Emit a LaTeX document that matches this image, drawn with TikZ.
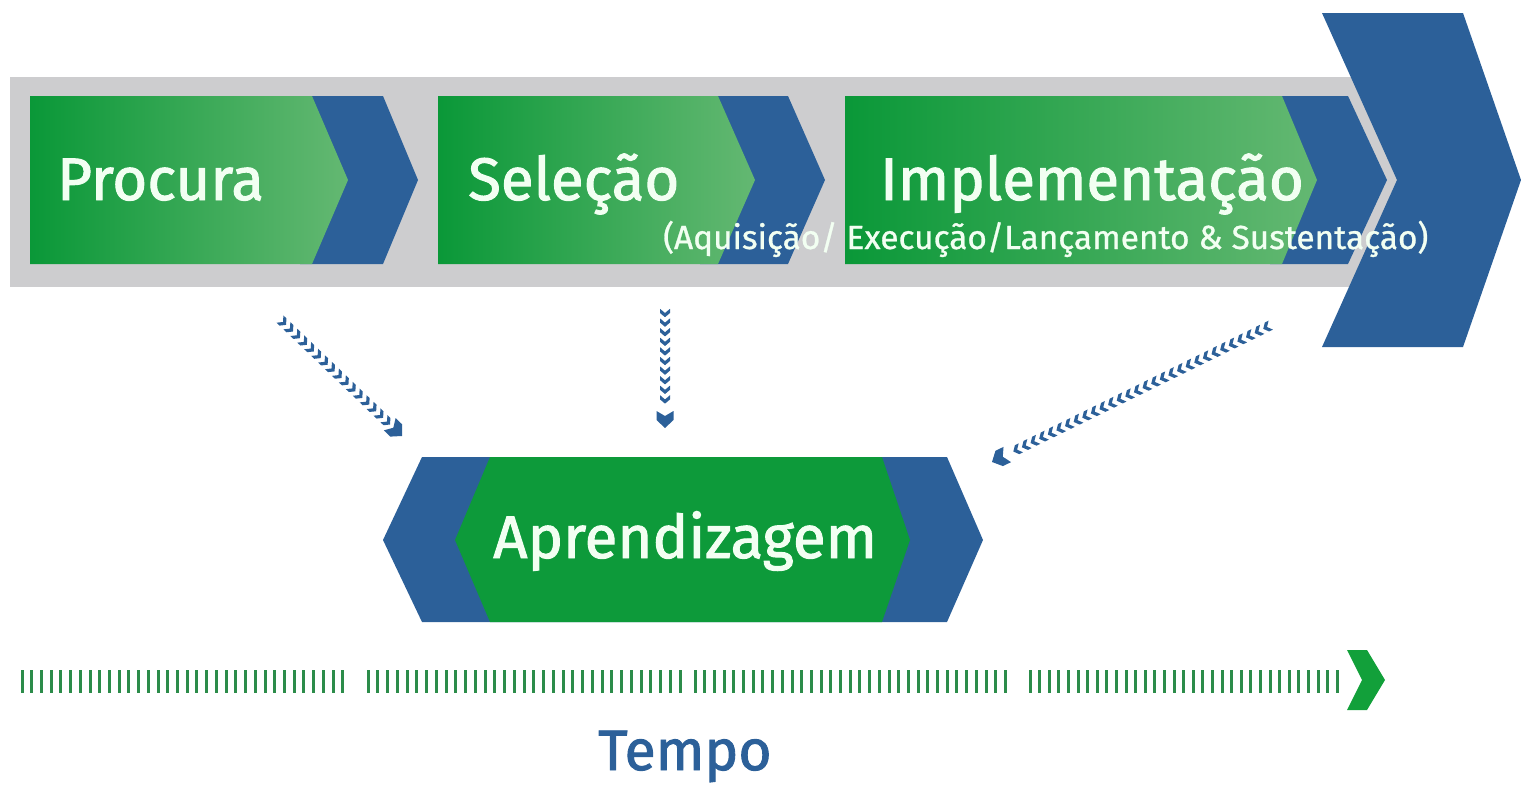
\documentclass[tikz,border=0pt]{standalone}
\usepackage{fontspec}
\newfontfamily\labelfont[FakeBold=1.6]{Fira Sans}
\newfontfamily\subfont[FakeBold=0.8]{Fira Sans}
\usetikzlibrary{decorations.markings}
\definecolor{cblue}{RGB}{44,96,153}
\definecolor{gdark}{RGB}{10,152,56}
\definecolor{glight}{RGB}{100,184,114}
\definecolor{gsolid}{RGB}{13,154,58}
\definecolor{band}{RGB}{205,205,207}
\definecolor{txt}{RGB}{242,255,242}
\definecolor{tick}{RGB}{44,140,74}
\definecolor{tgreen}{RGB}{18,160,58}
\tikzset{
  greenpart/.style={left color=gdark, right color=glight, draw=none},
  bluepart/.style={fill=cblue, draw=none},
  bigtxt/.style={text=txt, font=\labelfont\fontsize{60}{60}\selectfont, inner sep=0pt, anchor=base west},
  subtxt/.style={text=txt, font=\subfont\fontsize{33.4}{33.4}\selectfont, inner sep=0pt, anchor=base west},
  chevarrow/.style={decoration={markings,
      mark=between positions 0 and -19pt step 9.6pt with {\fill[cblue] (-4.2,-5) -- (0,-5) -- (4.2,0) -- (0,5) -- (-4.2,5) -- (0,0) -- cycle;},
      mark=at position 1 with {\fill[cblue] (-17,-8.5) -- (-8,-8.5) -- (0,0) -- (-8,8.5) -- (-17,8.5) -- (-12,0) -- cycle;}},
    decorate},
  tickmark/.style={draw=tick, line width=3pt}
}
\begin{document}
\begin{tikzpicture}[x=1pt,y=-1pt]
\useasboundingbox (0,0) rectangle (1521,787);
% gray band
\fill[band] (10,77) rectangle (1400,287);
% big chevron
\fill[cblue] (1322,13) -- (1463,13) -- (1521,180) -- (1463,347) -- (1322,347) -- (1397,180) -- cycle;
% block 1
\fill[bluepart] (300,96) -- (383,96) -- (418,180) -- (383,264) -- (300,264) -- cycle;
\shade[greenpart] (30,96) -- (312,96) -- (348,180) -- (312,264) -- (30,264) -- cycle;
% block 2
\fill[bluepart] (700,96) -- (788,96) -- (825,180) -- (788,264) -- (700,264) -- cycle;
\shade[greenpart] (438,96) -- (718,96) -- (755,180) -- (718,264) -- (438,264) -- cycle;
% block 3
\fill[bluepart] (1270,96) -- (1348,96) -- (1387,180) -- (1348,264) -- (1270,264) -- cycle;
\shade[greenpart] (845,96) -- (1282,96) -- (1317,180) -- (1282,264) -- (845,264) -- cycle;
% texts
\node[bigtxt] (procura) at (57,200) {Procura};
\node[bigtxt] (selecao) at (468,200) {Seleção};
\node[bigtxt] (implem) at (880,200) {Implementação};
\node[subtxt] (sub) at (663,249) {(Aquisição/ Execução/Lançamento \& Sustentação)};
% Aprendizagem
\fill[cblue] (422,457) -- (947,457) -- (983,540) -- (947,622) -- (422,622) -- (383,540) -- cycle;
\fill[gsolid] (490,457) -- (882,457) -- (910,540) -- (882,622) -- (490,622) -- (455,540) -- cycle;
\node[bigtxt] (aprend) at (493,558) {Aprendizagem};
% chevron arrows
\coordinate (a1s) at (283,322); \coordinate (a1e) at (402,436);
\coordinate (a2s) at (665,313); \coordinate (a2e) at (665,428);
\coordinate (a3s) at (1267,327); \coordinate (a3e) at (992,462);
\path[chevarrow] (a1s) -- (a1e);
\path[chevarrow] (a2s) -- (a2e);
\path[chevarrow] (a3s) -- (a3e);
% timeline
\foreach \x in {0,...,33} \draw[tickmark] ({22+\x*9.72},670) -- ({22+\x*9.72},693);
\foreach \x in {0,...,32} \draw[tickmark] ({368+\x*9.75},670) -- ({368+\x*9.75},693);
\foreach \x in {0,...,32} \draw[tickmark] ({695+\x*9.7},670) -- ({695+\x*9.7},693);
\foreach \x in {0,...,32} \draw[tickmark] ({1030+\x*9.6},670) -- ({1030+\x*9.6},693);
\fill[tgreen] (1347,650) -- (1367,650) -- (1385,680) -- (1367,710) -- (1347,710) -- (1362,680) -- cycle;
\node[inner sep=0pt, anchor=base west, text=cblue, font=\labelfont\fontsize{57}{57}\selectfont] (tempo) at (598,770) {Tempo};
\end{tikzpicture}
\end{document}
